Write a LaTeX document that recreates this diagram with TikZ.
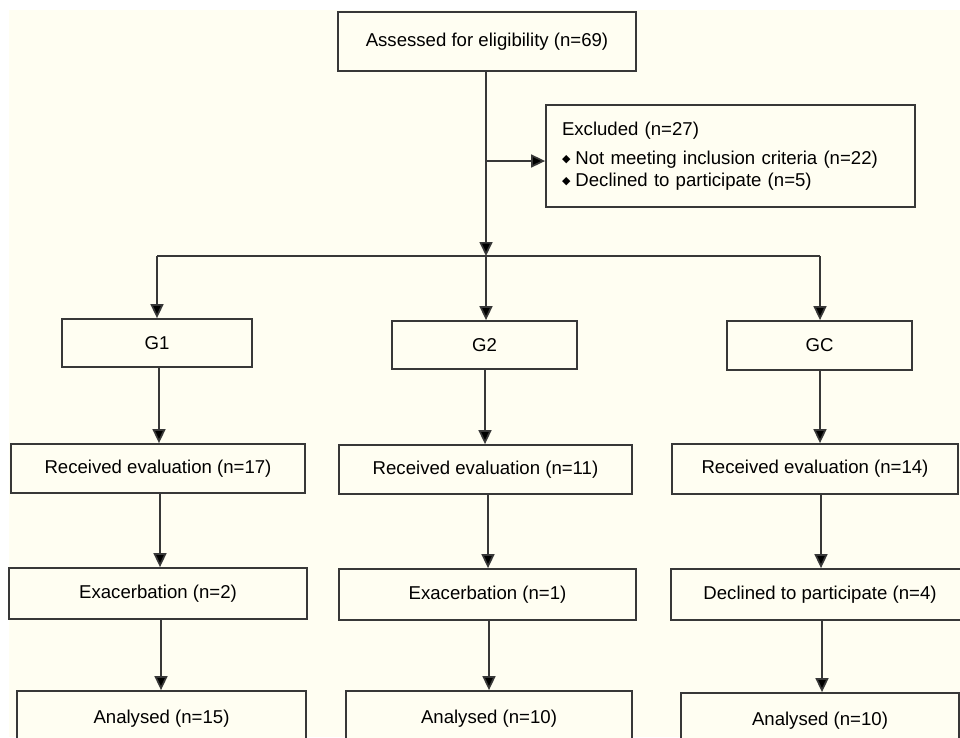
\documentclass[tikz,border=0pt]{standalone}
\usepackage{fontspec}
\setmainfont{Liberation Sans}
\newfontfamily\dejavu{DejaVu Sans}
\usetikzlibrary{arrows.meta}
\definecolor{cream}{HTML}{FFFEF2}
\definecolor{linec}{HTML}{383838}
\newcommand{\bulmark}{\raisebox{1.5pt}{\dejavu\fontsize{11}{11}\selectfont ◆}\hspace{5pt}}
\begin{document}
\begin{tikzpicture}[x=1pt,y=-1pt,
  box/.style={draw=linec, line width=1.8pt, fill=cream, inner sep=0pt, anchor=center,
    font=\fontsize{18.6}{22}\selectfont},
  arr/.style={draw=linec, line width=1.7pt, -{Triangle[length=14pt,width=13pt,fill=black]}},
  ln/.style={draw=linec, line width=1.7pt}]
\useasboundingbox (0,0) rectangle (960,737);
\clip (0,0) rectangle (960,737);
\fill[white] (0,0) rectangle (960,737);
\fill[cream] (9,10) rectangle (960,737);

\node[box, minimum width=298pt, minimum height=59pt] (top) at (487,41.5) {Assessed for eligibility (n=69)};
\node[box, minimum width=369pt, minimum height=102pt, text width=337pt, align=left, inner xsep=16pt] (excl) at (730.5,156)
  {Excluded (n=27)\\[7pt]\bulmark Not meeting inclusion criteria (n=22)\\\bulmark Declined to participate (n=5)};

\node[box, minimum width=190pt, minimum height=48pt] (g1) at (157,343) {G1};
\node[box, minimum width=185pt, minimum height=48pt] (g2) at (484.5,345) {G2};
\node[box, minimum width=185pt, minimum height=49pt] (gc) at (819.5,345.5) {GC};

\node[box, minimum width=294pt, minimum height=49pt] (r1) at (158,468.5) {Received evaluation (n=17)};
\node[box, minimum width=293pt, minimum height=49pt] (r2) at (485.5,469.5) {Received evaluation (n=11)};
\node[box, minimum width=286pt, minimum height=50pt] (r3) at (815,469) {Received evaluation (n=14)};

\node[box, minimum width=298pt, minimum height=51pt] (e1) at (158,593.5) {Exacerbation (n=2)};
\node[box, minimum width=297pt, minimum height=51pt] (e2) at (487.5,594.5) {Exacerbation (n=1)};
\node[box, minimum width=298pt, minimum height=51pt] (e3) at (820,594.5) {Declined to participate (n=4)};

\node[box, minimum width=289pt, minimum height=56pt] (a1) at (161.5,719) {Analysed (n=15)};
\node[box, minimum width=286pt, minimum height=56pt] (a2) at (489,719) {Analysed (n=10)};
\node[box, minimum width=278pt, minimum height=56pt] (a3) at (820,721) {Analysed (n=10)};

\coordinate (exbr) at (486,161);
\coordinate (split) at (486,256);
\coordinate (sl) at (157,256);
\coordinate (sr) at (820,256);

\draw[arr] (top.south -| split) -- (split);
\draw[arr] (exbr) -- (excl.west |- exbr);
\draw[ln] (sl) -- (sr);
\draw[arr] (sl) -- (g1.north -| sl);
\draw[arr] (split) -- (g2.north -| split);
\draw[arr] (sr) -- (gc.north -| sr);

\draw[arr] (g1.south -| 159,0) -- (r1.north -| 159,0);
\draw[arr] (g2.south -| 485,0) -- (r2.north -| 485,0);
\draw[arr] (gc.south -| 820,0) -- (r3.north -| 820,0);

\draw[arr] (r1.south -| 160,0) -- (e1.north -| 160,0);
\draw[arr] (r2.south -| 488,0) -- (e2.north -| 488,0);
\draw[arr] (r3.south -| 821,0) -- (e3.north -| 821,0);

\draw[arr] (e1.south -| 161,0) -- (a1.north -| 161,0);
\draw[arr] (e2.south -| 489,0) -- (a2.north -| 489,0);
\draw[arr] (e3.south -| 822,0) -- (a3.north -| 822,0);
\end{tikzpicture}
\end{document}
